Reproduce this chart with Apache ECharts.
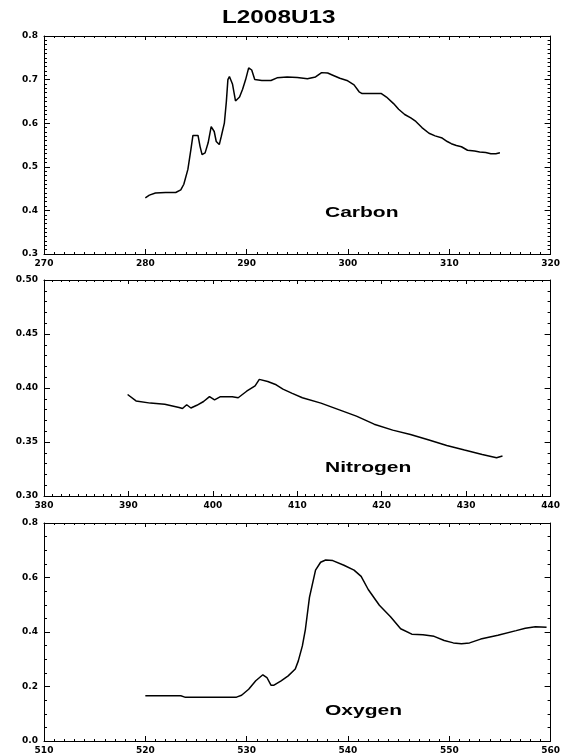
<!DOCTYPE html>
<html>
<head>
<meta charset="utf-8">
<title>L2008U13</title>
<script src="https://cdn.jsdelivr.net/npm/echarts@6/dist/echarts.min.js"></script>
<style>
	html, body { margin: 0; padding: 0; background: #fff; }
	#chart { width: 563px; height: 755px; }
</style>
</head>
<body>
<div id="chart"></div>
<script>
	// Carbon edge
	var carbonEnergy = [280.0, 280.4, 281.0, 282.0, 283.0, 283.5, 283.8, 284.2, 284.5, 284.7, 285.2, 285.4, 285.6, 285.9, 286.2, 286.5, 286.8, 287.0, 287.3, 287.5, 287.8, 288.0, 288.15, 288.3, 288.6, 288.9, 289.3, 289.6, 289.9, 290.2, 290.5, 290.8, 291.5, 292.4, 293.0, 294.0, 295.0, 296.0, 296.8, 297.4, 298.0, 298.5, 299.2, 299.9, 300.6, 301.1, 301.4, 302.5, 303.3, 303.8, 304.5, 305.0, 305.6, 306.2, 306.7, 307.3, 308.0, 308.6, 309.3, 309.8, 310.2, 310.7, 311.2, 311.8, 312.5, 313.0, 313.6, 314.1, 314.6, 315.0];
	var carbonValue = [0.429, 0.435, 0.440, 0.441, 0.441, 0.447, 0.460, 0.494, 0.540, 0.572, 0.572, 0.547, 0.528, 0.532, 0.555, 0.592, 0.581, 0.558, 0.551, 0.570, 0.600, 0.650, 0.700, 0.707, 0.690, 0.651, 0.660, 0.678, 0.700, 0.727, 0.722, 0.700, 0.698, 0.698, 0.704, 0.706, 0.705, 0.702, 0.706, 0.716, 0.715, 0.710, 0.703, 0.698, 0.688, 0.672, 0.668, 0.668, 0.668, 0.660, 0.645, 0.632, 0.620, 0.612, 0.604, 0.590, 0.577, 0.571, 0.566, 0.558, 0.553, 0.549, 0.546, 0.538, 0.536, 0.534, 0.533, 0.530, 0.530, 0.532];

	// Nitrogen edge
	var nitrogenEnergy = [389.9, 390.9, 392.6, 394.3, 396.0, 396.4, 396.9, 397.4, 398.1, 398.9, 399.6, 400.2, 400.9, 402.3, 403.0, 404.0, 405.0, 405.5, 406.5, 407.5, 408.3, 409.4, 410.6, 412.8, 414.9, 417.0, 419.1, 421.3, 423.4, 425.5, 427.7, 429.8, 431.9, 433.6, 434.3];
	var nitrogenValue = [0.394, 0.388, 0.386, 0.385, 0.382, 0.381, 0.3845, 0.3815, 0.384, 0.3875, 0.392, 0.389, 0.392, 0.392, 0.391, 0.397, 0.402, 0.408, 0.406, 0.403, 0.399, 0.395, 0.391, 0.386, 0.380, 0.374, 0.3665, 0.361, 0.357, 0.352, 0.3467, 0.3425, 0.3385, 0.3355, 0.337];

	// Oxygen edge
	var oxygenEnergy = [520.0, 523.5, 523.9, 526.7, 529.0, 529.5, 530.2, 530.9, 531.6, 532.0, 532.4, 532.7, 533.4, 534.1, 534.8, 535.1, 535.5, 535.8, 536.2, 536.8, 537.3, 537.8, 538.5, 539.6, 540.6, 541.3, 542.0, 543.1, 544.2, 545.2, 546.3, 547.4, 548.5, 549.5, 550.4, 551.2, 552.0, 553.1, 554.8, 556.6, 557.5, 558.5, 559.6];
	var oxygenValue = [0.166, 0.166, 0.161, 0.161, 0.161, 0.168, 0.190, 0.221, 0.243, 0.233, 0.205, 0.205, 0.221, 0.239, 0.264, 0.294, 0.349, 0.410, 0.527, 0.627, 0.656, 0.664, 0.662, 0.645, 0.627, 0.604, 0.556, 0.498, 0.456, 0.412, 0.392, 0.390, 0.384, 0.369, 0.360, 0.357, 0.360, 0.374, 0.388, 0.405, 0.414, 0.419, 0.417];

	// axis ranges per panel
	var xRanges = [[270, 320], [380, 440], [510, 560]];
	var yRanges = [[0.3, 0.8], [0.30, 0.50], [0.0, 0.8]];
	var yIntervals = [0.1, 0.05, 0.2];
	var yMinorSplits = [10, 5, 4];
	var yDigits = [1, 2, 1];
	var panelNames = ['Carbon', 'Nitrogen', 'Oxygen'];

	var zip = function(xs, ys) {
		return xs.map(function(x, i) { return [x, ys[i]]; });
	};
	var seriesData = [zip(carbonEnergy, carbonValue), zip(nitrogenEnergy, nitrogenValue), zip(oxygenEnergy, oxygenValue)];

	var labelFont = {
		color: '#000',
		fontFamily: 'DejaVu Sans',
		fontWeight: 'bold',
		fontSize: 9
	};

	var gridTops = [36, 280, 523];
	var gridHeights = [218, 216, 219];
	// where the element name sits inside each panel
	var nameTops = [205, 460, 703];

	var grids = [], xAxes = [], yAxes = [], series = [], texts = [];
	for (var i = 0; i < 3; i++) {
		grids.push({ left: 44, right: 10, top: gridTops[i], height: gridHeights[i], containLabel: false });
		['bottom', 'top'].forEach(function(pos) {
			xAxes.push({
				type: 'value',
				gridIndex: i,
				position: pos,
				min: xRanges[i][0],
				max: xRanges[i][1],
				interval: 10,
				axisLine: { show: true, onZero: false, lineStyle: { color: '#000', width: 1 } },
				axisTick: { show: true, inside: true, length: pos == 'bottom' ? 5 : 4, lineStyle: { color: '#000' } },
				minorTick: { show: true, splitNumber: 10, length: 2, lineStyle: { color: '#000' } },
				splitLine: { show: false },
				axisLabel: Object.assign({ show: pos == 'bottom', margin: 5 }, labelFont)
			});
		});
		['left', 'right'].forEach(function(pos) {
			var digits = yDigits[i];
			yAxes.push({
				type: 'value',
				gridIndex: i,
				position: pos,
				min: yRanges[i][0],
				max: yRanges[i][1],
				interval: yIntervals[i],
				axisLine: { show: true, onZero: false, lineStyle: { color: '#000', width: 1 } },
				axisTick: { show: true, inside: true, length: 6, lineStyle: { color: '#000' } },
				minorTick: { show: true, splitNumber: yMinorSplits[i], length: 3, lineStyle: { color: '#000' } },
				splitLine: { show: false },
				axisLabel: Object.assign({
					show: pos == 'left',
					margin: 6,
					formatter: function(v) { return v.toFixed(digits); }
				}, labelFont)
			});
		});
		series.push({
			name: panelNames[i],
			type: 'line',
			xAxisIndex: i * 2,
			yAxisIndex: i * 2,
			data: seriesData[i],
			showSymbol: false,
			symbol: 'none',
			lineStyle: { color: '#000', width: 1.5 },
			animation: false
		});
		texts.push({
			type: 'text',
			left: 325,
			top: nameTops[i],
			scaleX: 1.4,
			style: {
				text: panelNames[i],
				fill: '#000',
				font: 'bold 15px "Liberation Sans", Arial, sans-serif'
			}
		});
	}

	// title, drawn as text so it can be stretched like the original
	texts.push({
		type: 'text',
		left: 222,
		top: 9,
		scaleX: 1.35,
		style: {
			text: 'L2008U13',
			fill: '#000',
			font: 'bold 18px "Liberation Sans", Arial, sans-serif'
		}
	});

	var chart = echarts.init(document.getElementById('chart'));
	chart.setOption({
		animation: false,
		grid: grids,
		xAxis: xAxes,
		yAxis: yAxes,
		series: series,
		graphic: texts
	});
</script>
</body>
</html>
